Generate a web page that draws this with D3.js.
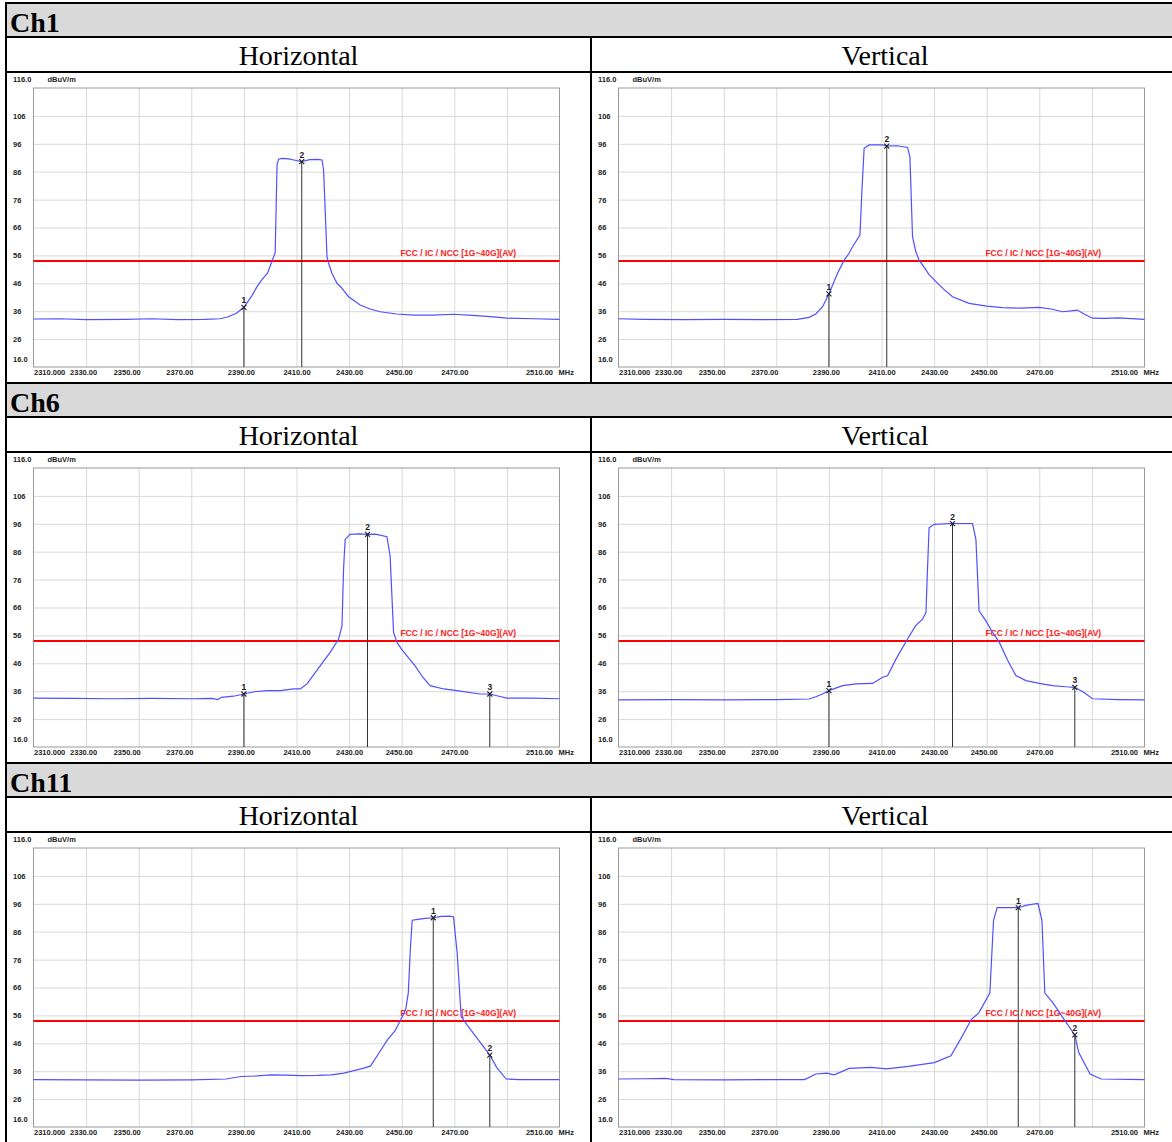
<!DOCTYPE html>
<html>
<head>
<meta charset="utf-8">
<script src="https://cdn.jsdelivr.net/npm/d3@7"></script>
<style>
  body { margin: 0; background: #fff; }
  .small { font-family: "Liberation Sans", Arial, sans-serif; font-weight: bold; font-size: 7.5px; fill: #222; }
  .head { font-family: "Liberation Serif", "Times New Roman", serif; }
</style>
</head>
<body>
<div id="page"></div>
<script>
// axis values
const freqTicks = [2310, 2330, 2350, 2370, 2390, 2410, 2430, 2450, 2470, 2490, 2510];
const freqLabels = ["2310.000", "2330.00", "2350.00", "2370.00", "2390.00", "2410.00", "2430.00", "2450.00", "2470.00", "", "2510.00"];
const levelTicks = [26, 36, 46, 56, 66, 76, 86, 96, 106];
const limitLevel = 54;
const limitLabel = "FCC / IC / NCC [1G~40G](AV)";

const channels = ["Ch1", "Ch6", "Ch11"];
const polarizations = ["Horizontal", "Vertical"];

// traces: [MHz, dBuV/m]
const ch1H = [[2310,33.2],[2320,33.3],[2330,33.0],[2345,33.1],[2355,33.3],[2365,33.0],[2375,33.1],[2381,33.3],[2384,34.0],[2387,35.2],[2390,37.4],[2393,41.5],[2395,44.8],[2397,47.5],[2399,49.6],[2400.6,53.7],[2401.9,57],[2402.3,75],[2402.6,88.5],[2403.2,90.5],[2404.4,90.8],[2407,90.6],[2409,90.2],[2412,89.6],[2415,90.3],[2418,90.4],[2419.7,90.2],[2420.3,86.6],[2421,70],[2421.6,55.5],[2422.2,53.2],[2423.5,49.5],[2425.4,46],[2427,44.5],[2429.8,41.2],[2434.2,38.2],[2438,36.8],[2441.8,35.8],[2448,35.0],[2454.5,34.6],[2462,34.6],[2469.7,34.9],[2477,34.5],[2484.9,34.0],[2490,33.5],[2500,33.3],[2510,33.1]];
const ch1V = [[2310,33.3],[2320,33.1],[2335,33.0],[2350,33.1],[2365,33.0],[2378,33.1],[2382.5,33.8],[2385,35.0],[2387.6,37.6],[2390,42.2],[2393.3,49.6],[2395.8,54.3],[2397.5,56.5],[2399,59.1],[2401.8,63.3],[2402.6,80],[2403.4,94.4],[2405.3,95.6],[2410.4,95.6],[2412,95.2],[2416,95.3],[2419.9,94.7],[2420.8,91.4],[2421.8,62.7],[2423,57.5],[2424.3,54.3],[2426.9,50.8],[2428,49.2],[2430.7,46.6],[2433.5,44],[2437,41.2],[2443.3,38.8],[2450,37.8],[2456,37.3],[2463,37.1],[2470,37.4],[2475,36.7],[2478.8,35.8],[2482,36.1],[2484.5,36.4],[2487,35],[2490.2,33.5],[2495,33.4],[2500,33.6],[2510,33.1]];
const ch6H = [[2310,33.5],[2325,33.4],[2340,33.3],[2355,33.4],[2370,33.3],[2378,33.4],[2380,33.0],[2381.5,33.8],[2386,34.2],[2390,35.0],[2394,35.8],[2398.7,36.2],[2403.8,36.2],[2408.9,36.8],[2411.4,36.8],[2414,38.6],[2419,45.1],[2422.8,49.9],[2426,54.7],[2427.3,59.4],[2427.9,80],[2428.5,90.4],[2430.4,92.2],[2434,92.4],[2436.8,92.2],[2440,92.3],[2444.4,91.4],[2445.6,84.4],[2446.9,57.1],[2448.2,53.5],[2450,51],[2452,48.7],[2455.1,45.1],[2458,41],[2460.8,38],[2466,36.8],[2471,36.2],[2479.8,35],[2483.5,35.0],[2487,34.2],[2490,33.5],[2500,33.5],[2510,33.3]];
const ch6V = [[2310,32.9],[2330,33.0],[2350,32.9],[2370,33.0],[2382.5,33.2],[2385,34.0],[2387.6,35],[2390,36.2],[2395.2,38],[2400.3,38.6],[2406.6,38.8],[2410.4,41],[2412.3,41.5],[2415.5,47.5],[2419.9,54.7],[2423,59.5],[2425.6,61.8],[2426.9,64.2],[2427.5,80],[2428.1,94.6],[2430,95.8],[2436.4,96.1],[2444.6,96.1],[2445.9,90.4],[2447.1,64.8],[2449.7,61.2],[2452,57.5],[2454.8,53.5],[2458,47],[2461.1,41.6],[2464.9,39.8],[2470,38.8],[2475,38],[2480,37.6],[2483.5,37.4],[2487,35.5],[2490.2,33.3],[2500,33.0],[2510,32.9]];
const ch11H = [[2310,33.0],[2330,32.9],[2350,32.8],[2370,32.9],[2383.2,33.2],[2388.9,34.1],[2395,34.3],[2400.4,34.7],[2406,34.6],[2411.8,34.4],[2418,34.5],[2423.2,34.7],[2428,35.3],[2431.8,36.2],[2436,37.2],[2438.2,37.9],[2441,42],[2444.7,47.4],[2447.5,50.5],[2449.7,54.6],[2451.5,58],[2452.5,64],[2453.3,80],[2454,90.1],[2456.1,90.4],[2459,90.8],[2462,91.0],[2465,91.5],[2468.3,91.6],[2469.7,91.3],[2471.1,78.3],[2472.6,55.7],[2474.7,52.8],[2479,47.4],[2483.5,41.8],[2486.1,37.4],[2489.7,33.2],[2495,33.0],[2510,33.0]];
const ch11V = [[2310,33.2],[2320,33.3],[2328,33.4],[2331,33.0],[2350,32.9],[2370,33.0],[2380.8,33.0],[2385,35],[2389.2,35.3],[2392,34.7],[2397.7,37],[2406.1,37.4],[2411.8,36.8],[2420.2,37.7],[2430.1,39.1],[2436.4,41.5],[2440,47.4],[2444.2,54.6],[2447,56.9],[2451.2,64],[2452.6,90.1],[2454,94.6],[2459.7,94.6],[2462,94.6],[2465.3,95.5],[2469.5,96.1],[2471,90.1],[2472.1,64],[2475.2,60.5],[2479.4,54.6],[2483.5,49.0],[2485,42.7],[2489.3,35],[2493.5,33.2],[2510,33.0]];

// markers: [number, MHz, dBuV/m]
const ch1HMarkers = [[1,2390,37.4],[2,2412,89.6]];
const ch1VMarkers = [[1,2390,42.2],[2,2412,95.2]];
const ch6HMarkers = [[1,2390,35.0],[2,2437,92.2],[3,2483.5,35.0]];
const ch6VMarkers = [[1,2390,36.2],[2,2437,96.1],[3,2483.5,37.4]];
const ch11HMarkers = [[1,2462,91.0],[2,2483.5,41.8]];
const ch11VMarkers = [[1,2462,94.6],[2,2483.5,49.0]];

const traces = [[ch1H, ch1V], [ch6H, ch6V], [ch11H, ch11V]];
const markers = [[ch1HMarkers, ch1VMarkers], [ch6HMarkers, ch6VMarkers], [ch11HMarkers, ch11VMarkers]];

// layout
const width = 1172, height = 1142;
const tableLeft = 6, tableRight = 1179, colSplit = 591;
const blockTop = 3, blockStep = 380;
const headH = 34, subH = 35;
const plotDx = 27.5, plotDy = 16, plotW = 526, plotH = 279;

const svg = d3.select("#page").append("svg")
  .attr("width", width)
  .attr("height", height)
  .attr("viewBox", [0, 0, width, height]);

svg.append("rect").attr("width", width).attr("height", height).attr("fill", "#fff");

const x = d3.scaleLinear().domain([2310, 2510]).range([0, plotW]);
const y = d3.scaleLinear().domain([16, 116]).range([plotH, 0]);

const line = d3.line().x(d => x(d[0])).y(d => y(d[1]));

function drawChart(g, trace, marks) {
  // grid
  const gy = g.append("g").call(d3.axisLeft(y).tickValues(levelTicks).tickSize(-plotW).tickFormat(""));
  gy.select(".domain").remove();
  gy.selectAll("line").attr("stroke", "#d9d9d9");

  const gx = g.append("g").attr("transform", `translate(0,${plotH})`)
    .call(d3.axisBottom(x).tickValues(freqTicks.slice(1, -1)).tickSize(-plotH).tickFormat(""));
  gx.select(".domain").remove();
  gx.selectAll("line").attr("stroke", "#d9d9d9");

  g.append("rect").attr("width", plotW).attr("height", plotH)
    .attr("fill", "none").attr("stroke", "#9a9a9a").attr("stroke-width", 1);

  // y labels
  const ly = g.append("g").call(d3.axisLeft(y).tickValues(levelTicks).tickSize(0));
  ly.select(".domain").remove();
  ly.attr("font-size", null).attr("font-family", null);
  ly.selectAll("text").attr("class", "small").attr("x", -20.5).attr("text-anchor", "start");

  g.append("text").attr("class", "small").attr("x", -20.5).attr("y", y(116) - 8).attr("dy", "0.32em").text("116.0");
  g.append("text").attr("class", "small").attr("x", 14).attr("y", y(116) - 8).attr("dy", "0.32em").text("dBuV/m");
  g.append("text").attr("class", "small").attr("x", -20.5).attr("y", y(16) - 7).attr("dy", "0.32em").text("16.0");

  // x labels
  const lx = g.append("g").attr("transform", `translate(0,${plotH})`)
    .call(d3.axisBottom(x).tickValues(freqTicks).tickSize(0).tickPadding(3).tickFormat((d, i) => freqLabels[i]));
  lx.select(".domain").remove();
  lx.attr("font-size", null).attr("font-family", null);
  lx.selectAll("text").attr("class", "small");
  lx.selectAll("text").filter(d => d === 2310).attr("text-anchor", "start");
  lx.selectAll("text").filter(d => d === 2330).attr("dx", -3);
  lx.selectAll("text").filter(d => d === 2350 || d === 2370).attr("dx", -12);
  lx.selectAll("text").filter(d => d === 2390).attr("dx", -3);
  lx.selectAll("text").filter(d => d === 2450).attr("dx", -3);
  lx.selectAll("text").filter(d => d === 2510).attr("text-anchor", "end").attr("dx", -7);
  g.append("text").attr("class", "small").attr("x", x(2510) - 1).attr("y", plotH + 3).attr("dy", "0.71em").text("MHz");

  // limit
  g.append("line").attr("x1", 0).attr("x2", plotW).attr("y1", y(limitLevel)).attr("y2", y(limitLevel))
    .attr("stroke", "#ff0000").attr("stroke-width", 2);
  g.append("text").attr("class", "small").attr("x", x(2449.5)).attr("y", y(limitLevel) - 5)
    .style("fill", "#ff2020").style("font-size", "8.5px").text(limitLabel);

  // trace
  g.append("path").datum(trace).attr("d", line)
    .attr("fill", "none").attr("stroke", "#5050ff").attr("stroke-width", 1.2);

  // markers
  const m = g.selectAll(".marker").data(marks).enter().append("g").attr("class", "marker")
    .attr("transform", d => `translate(${x(d[1])},${y(d[2])})`);
  m.append("line").attr("y1", 0).attr("y2", d => plotH - y(d[2])).attr("stroke", "#333").attr("stroke-width", 1);
  m.append("path").attr("d", "M-2.5,-2.5L2.5,2.5M-2.5,2.5L2.5,-2.5").attr("stroke", "#222").attr("stroke-width", 1.1);
  m.append("text").attr("class", "small").attr("y", -4).attr("text-anchor", "middle")
    .style("font-size", "8.5px").text(d => d[0]);
}

const colX = [tableLeft, colSplit];
const colCenter = [(tableLeft + colSplit) / 2, (colSplit + tableRight) / 2];

channels.forEach((ch, i) => {
  const top = blockTop + i * blockStep;
  svg.append("rect").attr("x", tableLeft).attr("y", top).attr("width", tableRight - tableLeft).attr("height", headH)
    .attr("fill", "#d9d9d9");
  svg.append("text").attr("class", "head").attr("x", 10).attr("y", top + 28.5)
    .attr("font-size", 28).attr("font-weight", "bold").text(ch);

  polarizations.forEach((p, j) => {
    svg.append("text").attr("class", "head").attr("x", colCenter[j]).attr("y", top + headH + 28)
      .attr("font-size", 28).attr("text-anchor", "middle").text(p);
    const g = svg.append("g")
      .attr("transform", `translate(${colX[j] + plotDx},${top + headH + subH + plotDy})`);
    drawChart(g, traces[i][j], markers[i][j]);
  });

  // borders
  [top, top + headH, top + headH + subH].forEach(yy => {
    svg.append("line").attr("x1", tableLeft - 1).attr("x2", tableRight).attr("y1", yy).attr("y2", yy)
      .attr("stroke", "#000").attr("stroke-width", 2);
  });
  svg.append("line").attr("x1", tableLeft).attr("x2", tableLeft).attr("y1", top).attr("y2", top + blockStep)
    .attr("stroke", "#000").attr("stroke-width", 2);
  svg.append("line").attr("x1", colSplit).attr("x2", colSplit).attr("y1", top + headH).attr("y2", top + blockStep)
    .attr("stroke", "#000").attr("stroke-width", 2);
});
</script>
</body>
</html>
